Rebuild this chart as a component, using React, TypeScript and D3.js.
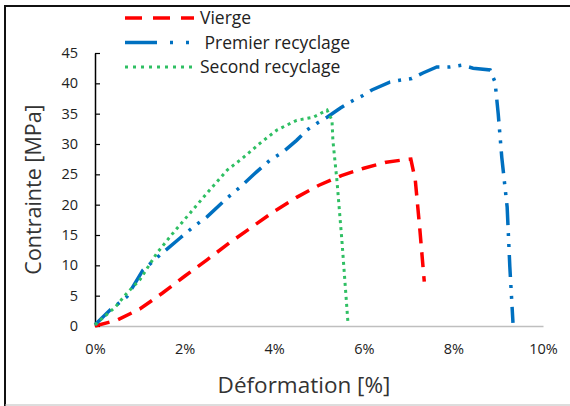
import React, { useRef, useEffect } from "react";
import * as d3 from "d3";

// strain [%], stress [MPa]
const vierge: [number, number][] = [
  [0, 0], [0.5, 1], [1, 2.8], [1.5, 5.4], [2, 8.2], [2.5, 10.9], [3, 13.7],
  [3.5, 16.3], [4, 18.9], [4.5, 21.2], [5, 23.2], [5.5, 24.8], [6, 26.0],
  [6.5, 27.0], [6.9, 27.4], [7.05, 27.5], [7.15, 24], [7.25, 16], [7.35, 7.3],
];

const premier: [number, number][] = [
  [0, 0.2], [0.33, 2.6], [0.71, 4.8], [1.07, 9.2], [1.45, 11.7], [1.9, 14.5],
  [2.19, 16.3], [2.5, 18], [2.95, 21.1], [3.24, 22.9], [3.53, 24.9], [3.9, 27.3],
  [4.2, 28.7], [4.5, 30.6], [4.73, 32.3], [4.95, 33.4], [5.18, 34.4], [5.47, 35.9],
  [5.69, 36.9], [5.98, 38], [6.18, 38.9], [6.58, 40.2], [6.8, 40.5], [7.07, 40.8],
  [7.32, 41.7], [7.63, 42.7], [7.92, 42.7], [8.19, 43], [8.44, 42.5], [8.82, 42.2],
  [8.93, 40.2], [9.0, 35], [9.08, 27.8], [9.2, 19.6], [9.26, 9.7], [9.33, 0.5],
];

const second: [number, number][] = [
  [0, 0.2], [0.45, 3.1], [0.71, 5.4], [1.0, 7.6], [1.38, 12], [1.74, 15.3],
  [2.12, 18.6], [2.5, 21.9], [2.95, 25.7], [3.3, 27.7], [3.68, 30.1], [4.06, 32.3],
  [4.5, 33.9], [4.87, 34.4], [5.18, 35.6], [5.29, 33.9], [5.31, 30.6], [5.4, 24],
  [5.51, 14.2], [5.65, 0.2],
];

const yTicks = [0, 5, 10, 15, 20, 25, 30, 35, 40, 45];
const xTicks = [0, 2, 4, 6, 8, 10];

const series = [
  { name: "Vierge", data: vierge, color: "#ff0000", dash: "15 9", legendDash: "17 11", width: 3.5 },
  { name: " Premier recyclage", data: premier, color: "#0070c0", dash: "22 8 3 8 3 8", legendDash: "32 13 3 13 3 13", width: 3.5 },
  { name: "Second recyclage", data: second, color: "#2fbf63", dash: "3 4", legendDash: "3 5", width: 3 },
];

const App = () => {
  const svgRef = useRef<SVGSVGElement>(null);

  useEffect(() => {
    const width = 570;
    const height = 406;
    const font = "'Open Sans', sans-serif";

    d3.select(svgRef.current).selectAll("*").remove();
    const svg = d3.select(svgRef.current).attr("width", width).attr("height", height);

    const x = d3.scaleLinear().domain([0, 10]).range([95, 543]);
    const y = d3.scaleLinear().domain([0, 45]).range([326, 53]);

    // chart frame
    svg.append("path").attr("d", "M5,406 V6 H570").attr("fill", "none").attr("stroke", "#111").attr("stroke-width", 2);
    svg.append("line").attr("x1", 5).attr("x2", 570).attr("y1", 405).attr("y2", 405).attr("stroke", "#bbb");

    // x axis
    const xAxis = svg
      .append("g")
      .attr("transform", `translate(0,${y(0)})`)
      .call(d3.axisBottom(x).tickValues(xTicks).tickSize(0).tickPadding(18).tickFormat((d) => `${d}%`));
    xAxis.select(".domain").attr("stroke", "#bfbfbf").attr("stroke-width", 1.5);
    xAxis.selectAll("text").attr("font-family", font).attr("font-size", 14.5).attr("fill", "#222");

    // y axis
    const yAxis = svg
      .append("g")
      .attr("transform", `translate(${x(0)},0)`)
      .call(d3.axisLeft(y).tickValues(yTicks).tickSizeInner(-5).tickSizeOuter(0).tickPadding(17));
    yAxis.select(".domain").attr("stroke", "#000").attr("stroke-width", 1.5);
    yAxis.selectAll(".tick line").attr("stroke", "#000").attr("stroke-width", 1.2);
    yAxis.selectAll("text").attr("font-family", font).attr("font-size", 14.5).attr("fill", "#222");

    // curves
    const line = d3
      .line<[number, number]>()
      .x((d) => x(d[0]))
      .y((d) => y(d[1]));

    series.forEach((s) => {
      svg
        .append("path")
        .datum(s.data)
        .attr("d", line)
        .attr("fill", "none")
        .attr("stroke", s.color)
        .attr("stroke-width", s.width)
        .attr("stroke-dasharray", s.dash);
    });

    // legend
    const legend = svg.append("g");
    series.forEach((s, i) => {
      const ly = 18 + i * 24.5;
      legend
        .append("line")
        .attr("x1", 125)
        .attr("x2", 194)
        .attr("y1", ly)
        .attr("y2", ly)
        .attr("stroke", s.color)
        .attr("stroke-width", s.width)
        .attr("stroke-dasharray", s.legendDash);
      legend
        .append("text")
        .attr("x", 200)
        .attr("y", ly)
        .attr("dy", "0.35em")
        .attr("font-family", font)
        .attr("font-size", 17.5)
        .attr("fill", "#222")
        .style("white-space", "pre")
        .text(s.name);
    });

    // axis titles
    svg
      .append("text")
      .attr("x", 304)
      .attr("y", 393)
      .attr("text-anchor", "middle")
      .attr("font-family", font)
      .attr("font-size", 22.5)
      .attr("fill", "#333")
      .text("Déformation [%]");

    svg
      .append("text")
      .attr("transform", `translate(33,${(y(0) + y(45)) / 2}) rotate(-90)`)
      .attr("text-anchor", "middle")
      .attr("dy", "0.35em")
      .attr("font-family", font)
      .attr("font-size", 21.5)
      .attr("fill", "#333")
      .text("Contrainte [MPa]");
  }, []);

  return (
    <div style={{ position: "absolute", left: 0, top: 0 }}>
      <svg ref={svgRef} style={{ display: "block" }}></svg>
    </div>
  );
};

export default App;
